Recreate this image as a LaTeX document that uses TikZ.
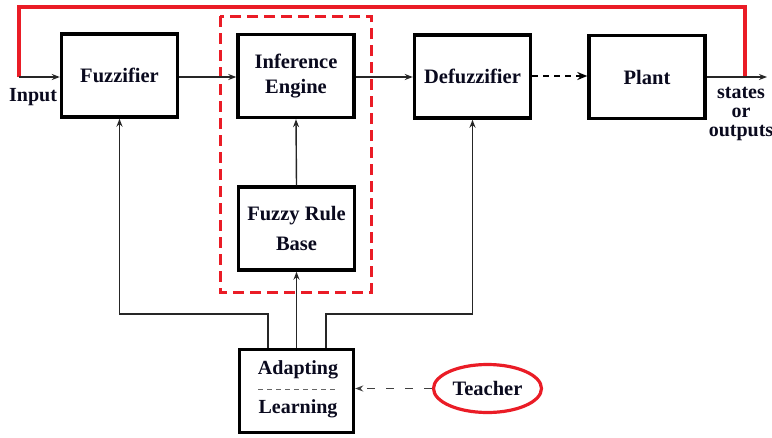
\documentclass[tikz,border=0pt]{standalone}
\usepackage{fontspec}
\setmainfont{Liberation Serif}
\usetikzlibrary{arrows.meta,shapes.geometric}
\definecolor{myred}{RGB}{234,28,38}
\definecolor{txt}{RGB}{10,10,30}
\tikzset{
  blk/.style={draw=black,line width=3.4pt,minimum width=116pt,minimum height=83pt,inner sep=0pt,fill=white,align=center,font=\fontsize{20.5}{25}\selectfont\bfseries,text=txt},
  conn/.style={draw=black!85,line width=1.4pt,-{Stealth[length=8pt,width=6pt]}},
  lbl/.style={font=\fontsize{20}{19}\selectfont\bfseries,text=txt,inner sep=0pt,align=center},
  redline/.style={draw=myred,line width=3.2pt},
}
\begin{document}
\begin{tikzpicture}[x=1pt,y=-1pt]
\useasboundingbox (0,0) rectangle (772,437);
\fill[white] (0,0) rectangle (772,437);
% red dashed box
\draw[myred,line width=3pt,dash pattern=on 11pt off 6pt] (220,16) rectangle (371,292);
% blocks
\node[blk] (fuzz) at (119.5,75.5) {Fuzzifier};
\node[blk] (inf) at (296,76) {Inference\\Engine};
\node[blk,font=\fontsize{20.5}{30}\selectfont\bfseries] (frb) at (296.5,228.5) {Fuzzy Rule\\Base};
\node[blk] (defuzz) at (472.5,76.5) {Defuzzifier};
\node[blk] (plant) at (647,77) {Plant};
\node[blk,minimum width=114pt] (adapt) at (296.5,391) {};
\node[lbl] (adtxt) at (298,370) {Adapting};
\node[lbl] (lrtxt) at (298,409) {Learning};
\draw[black!60,line width=1.3pt,dash pattern=on 5pt off 4pt] (258,389.5) -- (338,389.5);
% teacher
\node[draw=myred,line width=3.2pt,ellipse,minimum width=108pt,minimum height=48pt,inner sep=0pt,font=\fontsize{20.5}{25}\selectfont\bfseries,text=txt] (teacher) at (487.5,388.5) {Teacher};
% labels
\node[lbl,anchor=west] (inp) at (9,97) {Input};
\node[lbl] (outs) at (741,114) {states\\or\\outputs};
% coordinates
\coordinate (inpt) at (19,77);
\coordinate (outp) at (745,77);
\coordinate (outend) at (767,77);
% red feedback line
\draw[redline] (inpt) -- (19,7) -- (745,7) -- (outp);
% main path
\draw[conn] (inpt) -- (fuzz.west |- inpt);
\draw[conn] (fuzz.east |- inpt) -- (inf.west |- inpt);
\draw[conn] (inf.east |- inpt) -- (defuzz.west |- inpt);
\draw[line width=2.4pt,dash pattern=on 6pt off 5pt,-{Stealth[length=10pt,width=8pt]}] (defuzz.east |- 0,76) -- (plant.west |- 0,76);
\draw[conn] (plant.east |- inpt) -- (outend);
% up connectors
\draw[conn] (frb.north) -- (inf.south);
\draw[conn] (adapt.north) -- (frb.south);
\draw[conn] ([xshift=-28.5pt]adapt.north) -- ++(0,-34) -| (fuzz.south);
\draw[conn] ([xshift=29.5pt]adapt.north) -- ++(0,-34) -| (defuzz.south);
% teacher dashed
\draw[draw=black!75,line width=1.4pt,dash pattern=on 8pt off 11pt,-{Stealth[length=8pt,width=6pt]}] (teacher.west) -- (adapt.east |- teacher.west);
\end{tikzpicture}
\end{document}
